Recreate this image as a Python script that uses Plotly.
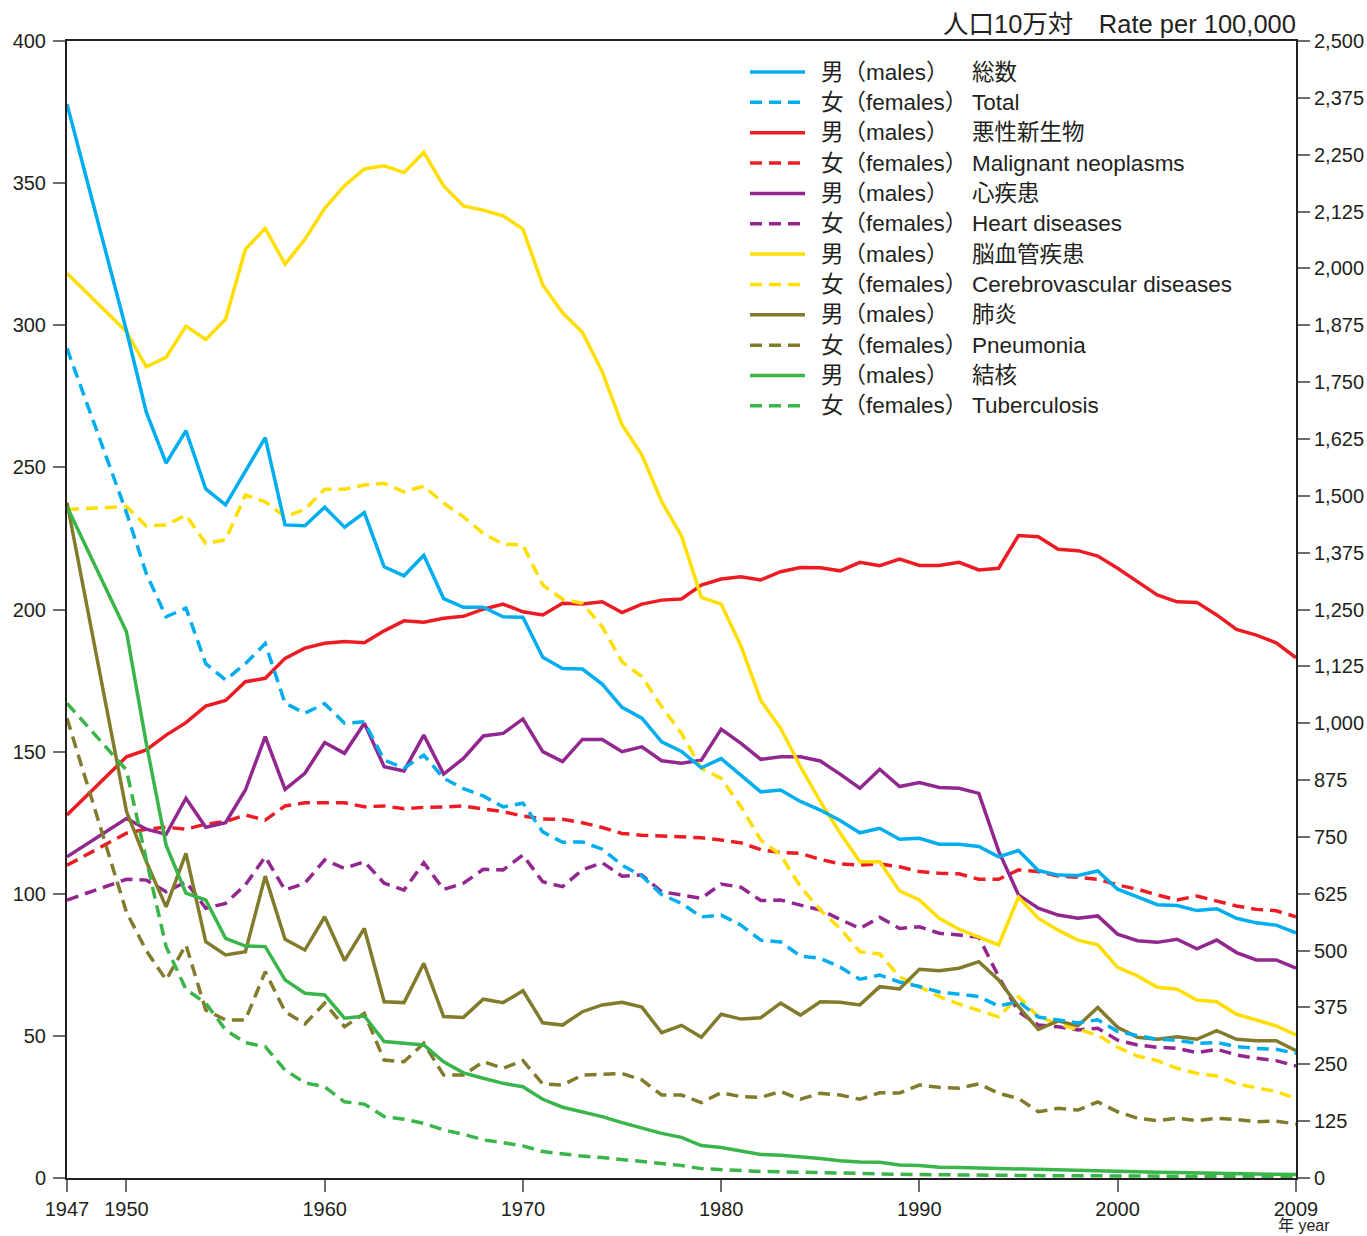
import plotly.graph_objects as go

# ---------------- data ----------------
years = [1947, 1950, 1951, 1952, 1953, 1954, 1955, 1956, 1957, 1958, 1959,
         1960, 1961, 1962, 1963, 1964, 1965, 1966, 1967, 1968, 1969,
         1970, 1971, 1972, 1973, 1974, 1975, 1976, 1977, 1978, 1979,
         1980, 1981, 1982, 1983, 1984, 1985, 1986, 1987, 1988, 1989,
         1990, 1991, 1992, 1993, 1994, 1995, 1996, 1997, 1998, 1999,
         2000, 2001, 2002, 2003, 2004, 2005, 2006, 2007, 2008, 2009]

# Total (right axis, per 100,000)
total_m = [2361, 1863, 1684, 1572, 1643, 1515, 1480, 1554, 1628, 1436, 1434,
           1475, 1431, 1463, 1344, 1324, 1369, 1274, 1255, 1255, 1234,
           1233, 1145, 1120, 1119, 1086, 1035, 1011, 959, 938, 902,
           922, 886, 849, 853, 828, 809, 786, 759, 769, 745,
           747, 734, 734, 729, 706, 720, 676, 666, 665, 675,
           635, 618, 601, 599, 588, 592, 571, 561, 556, 539]
total_f = [1824, 1463, 1329, 1234, 1253, 1131, 1095, 1131, 1175, 1044, 1022,
           1043, 1000, 1003, 919, 901, 930, 879, 856, 840, 816,
           824, 761, 738, 739, 723, 688, 664, 623, 604, 574,
           578, 556, 523, 519, 488, 483, 464, 437, 446, 431,
           421, 409, 404, 399, 378, 388, 354, 348, 341, 348,
           322, 313, 305, 303, 296, 298, 289, 285, 283, 274]

# Left axis series
cancer_m = [127.7, 148.2, 150.6, 155.8, 160.2, 166.0, 168.0, 174.6, 175.8, 182.8, 186.4,
            188.1, 188.7, 188.3, 192.5, 196.0, 195.5, 196.9, 197.6, 200.1, 201.9,
            199.2, 198.1, 202.2, 201.9, 202.7, 198.9, 201.9, 203.3, 203.7, 208.6,
            210.7, 211.5, 210.4, 213.3, 214.8, 214.7, 213.6, 216.6, 215.4, 217.7,
            215.5, 215.5, 216.6, 213.9, 214.5, 226.0, 225.6, 221.2, 220.7, 218.8,
            214.5, 209.8, 205.1, 202.7, 202.5, 198.1, 193.0, 191.0, 188.3, 183.0]
cancer_f = [110.0, 121.3, 122.7, 123.4, 122.7, 124.5, 125.4, 127.7, 125.9, 130.9, 132.0,
            132.0, 132.0, 130.6, 130.9, 129.9, 130.4, 130.5, 130.9, 129.8, 128.9,
            127.3, 126.3, 126.2, 125.0, 123.3, 121.2, 120.6, 120.2, 120.0, 119.7,
            118.9, 117.9, 115.5, 114.5, 114.2, 112.1, 110.5, 110.1, 110.5, 109.5,
            107.8, 107.2, 107.0, 105.1, 105.1, 108.4, 107.8, 106.2, 105.8, 105.1,
            103.1, 101.6, 99.6, 97.8, 99.2, 97.6, 95.7, 94.5, 94.0, 91.9]
heart_m = [113.0, 126.5, 122.7, 120.9, 133.6, 123.4, 125.0, 136.5, 155.3, 136.7, 142.4,
           153.2, 149.4, 160.0, 144.7, 143.2, 155.8, 142.1, 147.6, 155.5, 156.4,
           161.5, 150.0, 146.5, 154.3, 154.3, 150.0, 151.7, 146.8, 145.9, 147.0,
           157.9, 152.9, 147.3, 148.2, 148.2, 146.7, 142.1, 137.1, 143.8, 137.7,
           139.1, 137.4, 137.1, 135.3, 115.0, 99.6, 94.9, 92.5, 91.4, 92.2,
           85.8, 83.5, 82.9, 84.0, 80.6, 83.7, 79.3, 76.7, 76.7, 73.8]
heart_f = [97.8, 105.1, 104.8, 100.7, 104.2, 94.9, 96.6, 103.1, 113.0, 101.3, 103.7,
           111.9, 108.9, 111.3, 103.7, 101.3, 110.9, 101.5, 103.7, 108.6, 108.4,
           113.6, 104.2, 102.5, 108.4, 110.9, 106.2, 106.6, 100.7, 99.6, 98.4,
           103.4, 102.3, 97.6, 97.8, 96.0, 94.3, 91.0, 87.8, 91.7, 87.8,
           88.4, 86.1, 85.5, 84.7, 70.8, 58.5, 53.8, 53.2, 52.1, 52.7,
           48.5, 46.8, 46.0, 45.6, 44.1, 45.3, 43.3, 42.1, 41.3, 39.4]
cvd_m = [318.3, 297.7, 285.4, 288.7, 299.7, 295.0, 302.1, 326.7, 334.1, 321.5, 330.2,
         341.1, 349.1, 355.0, 356.1, 353.7, 360.8, 349.0, 342.0, 340.5, 338.5,
         333.8, 314.2, 304.4, 297.5, 283.7, 265.0, 254.4, 237.9, 225.9, 204.3,
         201.9, 187.2, 168.0, 158.2, 144.7, 132.5, 121.4, 111.3, 111.3, 101.0,
         97.8, 91.4, 87.5, 84.7, 82.0, 98.8, 91.4, 87.2, 83.7, 82.0,
         74.1, 71.1, 67.1, 66.4, 62.6, 62.0, 57.6, 55.6, 53.5, 50.3]
cvd_f = [235.2, 236.2, 229.4, 229.7, 233.2, 223.3, 224.5, 240.3, 237.9, 232.6, 235.2,
         242.3, 242.3, 243.8, 244.4, 241.4, 243.4, 237.4, 232.6, 226.8, 223.0,
         222.7, 208.6, 203.6, 202.2, 194.0, 181.6, 176.4, 165.8, 156.4, 144.1,
         140.6, 130.6, 118.9, 113.6, 102.5, 94.3, 87.8, 79.6, 78.8, 70.8,
         67.3, 63.8, 61.2, 59.1, 56.7, 63.8, 56.7, 54.2, 52.3, 50.3,
         46.0, 42.9, 41.3, 38.6, 36.8, 35.9, 33.1, 31.6, 30.4, 28.0]
pneu_m = [237.6, 129.0, 111.3, 95.4, 114.2, 83.1, 78.5, 79.6, 106.2, 84.0, 80.2,
          91.9, 76.5, 87.8, 62.0, 61.7, 75.5, 56.8, 56.5, 62.9, 61.7,
          65.9, 54.6, 53.8, 58.5, 60.9, 61.8, 60.1, 51.1, 53.7, 49.5,
          57.6, 55.9, 56.4, 61.5, 57.3, 62.0, 61.8, 60.9, 67.3, 66.5,
          73.4, 72.9, 73.8, 76.1, 69.7, 60.3, 52.3, 55.3, 53.5, 60.0,
          53.0, 49.5, 48.8, 49.7, 48.8, 51.8, 48.8, 48.3, 48.3, 44.8]
pneu_f = [161.7, 93.5, 80.0, 69.7, 82.0, 59.1, 55.6, 55.6, 72.6, 58.5, 54.2,
          61.5, 53.2, 57.9, 41.5, 40.9, 47.4, 36.2, 36.2, 40.9, 38.6,
          41.3, 33.1, 32.7, 36.2, 36.6, 36.8, 34.5, 29.2, 29.2, 26.5,
          30.0, 28.6, 28.4, 30.4, 27.7, 29.8, 29.2, 27.7, 30.0, 29.9,
          32.7, 31.9, 31.6, 33.1, 29.8, 28.0, 23.3, 24.5, 23.9, 26.8,
          23.3, 21.0, 20.2, 21.0, 20.2, 21.0, 20.6, 19.8, 20.0, 19.0]
tb_m = [236.2, 192.2, 152.9, 117.1, 100.2, 97.8, 84.3, 81.6, 81.4, 69.7, 65.0,
        64.4, 56.2, 57.0, 48.0, 47.4, 46.8, 40.9, 37.0, 35.1, 33.3,
        32.1, 27.7, 24.9, 23.3, 21.6, 19.5, 17.5, 15.7, 14.3, 11.4,
        10.7, 9.5, 8.3, 8.0, 7.5, 6.9, 6.1, 5.6, 5.5, 4.6,
        4.4, 3.8, 3.7, 3.5, 3.3, 3.2, 2.9, 2.7, 2.6, 2.6,
        2.3, 2.1, 2.0, 1.9, 1.7, 1.6, 1.5, 1.4, 1.3, 1.2]
tb_f = [167.0, 143.5, 111.9, 81.4, 66.4, 61.5, 52.1, 47.6, 46.2, 38.0, 33.5,
        32.1, 26.8, 26.0, 21.6, 20.7, 19.2, 16.9, 15.4, 13.4, 12.4,
        11.3, 9.3, 8.4, 7.7, 7.2, 6.5, 5.6, 5.0, 4.4, 3.3,
        2.9, 2.6, 2.3, 2.2, 2.0, 1.8, 1.6, 1.5, 1.4, 1.3,
        1.2, 1.1, 1.0, 1.0, 0.9, 0.9, 0.8, 0.8, 0.8, 0.8,
        0.7, 0.7, 0.6, 0.6, 0.5, 0.5, 0.5, 0.4, 0.4, 0.4]

causes_jp = ["総数", "悪性新生物", "心疾患", "脳血管疾患", "肺炎", "結核"]
causes_en = ["Total", "Malignant neoplasms", "Heart diseases",
             "Cerebrovascular diseases", "Pneumonia", "Tuberculosis"]
sex_labels = ["男（males）", "女（females）"]
x_ticks = [1947, 1950, 1960, 1970, 1980, 1990, 2000, 2009]
left_ticks = [0, 50, 100, 150, 200, 250, 300, 350, 400]
right_ticks = [0, 125, 250, 375, 500, 625, 750, 875, 1000, 1125, 1250, 1375,
               1500, 1625, 1750, 1875, 2000, 2125, 2250, 2375, 2500]

# ---------------- styling ----------------
colors = ["#00AEEF", "#ED1C24", "#92278F", "#FFDE00", "#827B2B", "#39B54A"]
series = [(total_m, total_f, "y2"), (cancer_m, cancer_f, "y"), (heart_m, heart_f, "y"),
          (cvd_m, cvd_f, "y"), (pneu_m, pneu_f, "y"), (tb_m, tb_f, "y")]
DASH = "12px,7px"
LW = 3.5
FONT = "Liberation Sans, Arial, Helvetica, Noto Sans CJK JP, sans-serif"
INK = "#231F20"

W, H = 1367, 1236
ML, MR, MT, MB = 67, 71, 41, 58
PW, PH = W - ML - MR, H - MT - MB


def pxx(x):
    return (x - ML) / PW


def pxy(y):
    return (H - MB - y) / PH


fig = go.Figure()
for (m, f, ax), c, jp, en in zip(series, colors, causes_jp, causes_en):
    fig.add_trace(go.Scatter(x=years, y=m, yaxis=ax, mode="lines", name=f"男 {jp}",
                             line=dict(color=c, width=LW), showlegend=False))
    fig.add_trace(go.Scatter(x=years, y=f, yaxis=ax, mode="lines", name=f"女 {en}",
                             line=dict(color=c, width=LW, dash=DASH), showlegend=False))

# manual legend (two text columns like the original)
shapes = []
annotations = []
row0, step = 72, 30.35
for i, (c, jp, en) in enumerate(zip(colors, causes_jp, causes_en)):
    for k in range(2):
        r = 2 * i + k
        yy = pxy(row0 + r * step)
        shapes.append(dict(type="line", xref="paper", yref="paper",
                           x0=pxx(750), x1=pxx(805), y0=yy, y1=yy,
                           line=dict(color=c, width=LW, dash=None if k == 0 else DASH)))
        annotations.append(dict(xref="paper", yref="paper", x=pxx(819), y=yy,
                                xanchor="left", yanchor="middle", showarrow=False,
                                text=sex_labels[k], font=dict(size=22.5, color=INK, family=FONT)))
        annotations.append(dict(xref="paper", yref="paper", x=pxx(970), y=yy,
                                xanchor="left", yanchor="middle", showarrow=False,
                                text=jp if k == 0 else en,
                                font=dict(size=22.5, color=INK, family=FONT)))

annotations.append(dict(xref="paper", yref="paper", x=pxx(1298), y=pxy(24),
                        xanchor="right", yanchor="middle", showarrow=False,
                        text="人口10万対　Rate per 100,000",
                        font=dict(size=25.5, color=INK, family=FONT)))
annotations.append(dict(xref="paper", yref="paper", x=pxx(1304), y=pxy(1235),
                        xanchor="center", yanchor="bottom", showarrow=False, borderpad=0,
                        text="年 year", font=dict(size=16, color=INK, family=FONT)))

fig.update_layout(
    width=W, height=H,
    margin=dict(l=ML, r=MR, t=MT, b=MB, pad=0, autoexpand=False),
    paper_bgcolor="white", plot_bgcolor="white",
    font=dict(family=FONT, size=20, color=INK),
    shapes=shapes, annotations=annotations,
    showlegend=False,
    xaxis=dict(range=[1947, 2009], tickvals=x_ticks, ticks="outside", ticklen=12,
               tickwidth=1.5, tickcolor="#6D6E71", showline=True, linecolor=INK,
               linewidth=2, mirror=True, showgrid=False, zeroline=False, automargin=False,
               tickfont=dict(size=20, color=INK), ticklabelstandoff=0),
    yaxis=dict(range=[0, 400], tickvals=left_ticks, ticks="outside", ticklen=12,
               tickwidth=1.5, tickcolor="#6D6E71", showline=True, linecolor=INK,
               linewidth=2, showgrid=False, zeroline=False, automargin=False,
               tickfont=dict(size=20, color=INK), ticklabelstandoff=3),
    yaxis2=dict(range=[0, 2500], tickvals=right_ticks, tickformat=",", overlaying="y",
                side="right", ticks="outside", ticklen=12, tickwidth=1.5,
                tickcolor="#6D6E71", showline=True, linecolor=INK, linewidth=2,
                showgrid=False, zeroline=False, automargin=False,
                tickfont=dict(size=20, color=INK), ticklabelstandoff=0),
)

fig.write_html("out.html", config={"displayModeBar": False},
               post_script="document.body.style.margin='0px';document.body.style.padding='0px';")
